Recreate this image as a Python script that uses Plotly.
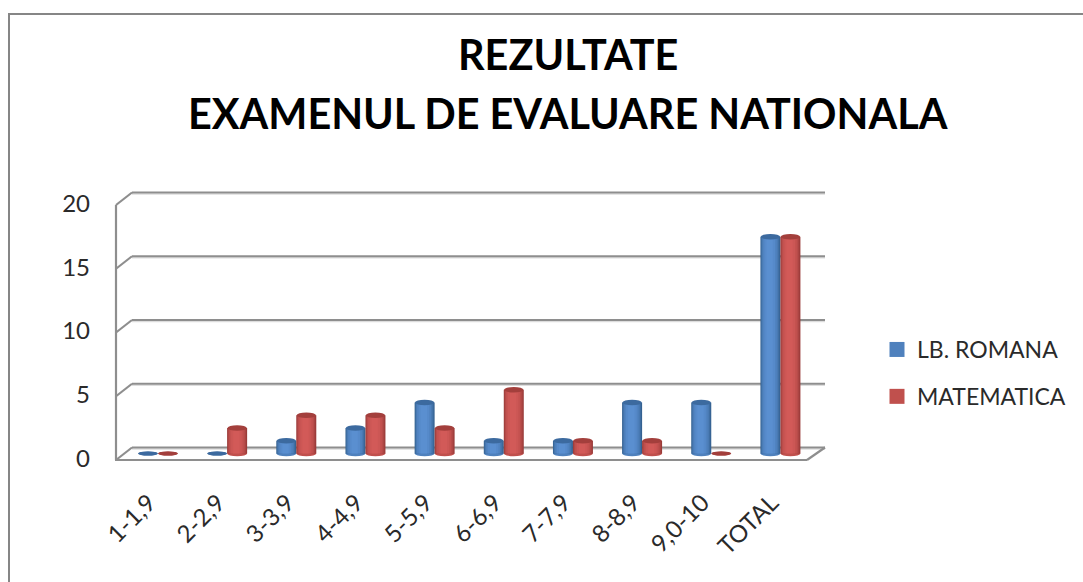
import plotly.graph_objects as go

categories = ["1-1,9", "2-2,9", "3-3,9", "4-4,9", "5-5,9", "6-6,9", "7-7,9", "8-8,9", "9,0-10", "TOTAL"]
lb_romana = [0, 0, 1, 2, 4, 1, 1, 4, 4, 17]
matematica = [0, 2, 3, 3, 2, 5, 1, 1, 0, 17]
y_ticks = [0, 5, 10, 15, 20]
title_lines = ["REZULTATE", "EXAMENUL DE EVALUARE NATIONALA"]

W, H = 1083, 582
FONT = "Lato"
GRID = "#8e8e8e"
TEXT = "#2a2a2a"

def hexmix(a, b, t):
    a = [int(a[i:i + 2], 16) for i in (1, 3, 5)]
    b = [int(b[i:i + 2], 16) for i in (1, 3, 5)]
    return "#" + "".join(f"{round(x + (y - x) * t):02x}" for x, y in zip(a, b))

def px(x): return x / W
def py(y): return 1 - y / H

# plot frame in pixels
PL, PR, PT, PB = 123.4, 815.0, 180.0, 470.0
UNIT = 12.75
ZERO_BAR = 453.5      # pixel of value 0 for the cylinders
ZERO_BACK = 447.5     # back wall
ZERO_FRONT = 460.0    # front edge
ZERO_LABEL = 458.5

def rng(zero):
    return [(zero - PB) / UNIT, (zero - PT) / UNIT]

def back(v): return ZERO_BACK - v * UNIT
def front(v): return ZERO_FRONT - v * UNIT

BAR_W = 0.289
# nested strips from the outer skin to the highlight: (inset left, inset right, lightness), as fractions of the bar width
LEVELS = [(0.00, 0.00, 0.00), (0.03, 0.05, 0.30), (0.07, 0.11, 0.55), (0.12, 0.18, 0.75), (0.20, 0.27, 0.90), (0.30, 0.38, 1.00)]

fig = go.Figure()
shapes = []

def line(x0, y0, x1, y1, color=GRID, width=2.2):
    shapes.append(dict(type="line", xref="paper", yref="paper", x0=px(x0), y0=py(y0), x1=px(x1), y1=py(y1),
                       line=dict(color=color, width=width), layer="below"))

# outer chart frame
line(9, 582, 9, 14, "#868686", 2)
line(8, 14, 1083, 14, "#868686", 2)

# walls and floor
for v in y_ticks:
    line(132, back(v) + 1.5, 825, back(v) + 1.5, "#dddddd", 1.5)
    line(132, back(v), 825, back(v))
    line(116, front(v), 132, back(v))
line(116, front(20), 116, front(0))
line(115, ZERO_FRONT, 807, ZERO_FRONT)
line(807, ZERO_FRONT, 825, ZERO_BACK)

def cylinder(values, start, name, edge, mid, light, top_color):
    xs = list(range(len(values)))
    for il, ir, t in LEVELS:
        fig.add_trace(go.Bar(x=xs, y=values, width=BAR_W * (1 - il - ir), offset=start + BAR_W * il,
                             marker=dict(color=hexmix(edge, light, t), line=dict(width=0)),
                             showlegend=False, name=name))
    for k, v in zip(xs, values):
        cap = 0.16 if v == 0 else 0.22
        # foot of the cylinder
        shapes.append(dict(type="circle", xref="x", yref="y", layer="below", x0=k + start, x1=k + start + BAR_W,
                           y0=-cap, y1=cap, fillcolor=top_color if v == 0 else mid, line=dict(width=0)))
        # top cap
        shapes.append(dict(type="circle", xref="x", yref="y", layer="above", x0=k + start + 0.005, x1=k + start + BAR_W - 0.005,
                           y0=v - cap, y1=v + cap, fillcolor=top_color, line=dict(width=0)))

cylinder(lb_romana, -BAR_W, "LB. ROMANA", "#34608f", "#4f81bd", "#5a8fd0", "#3c6a9f")
cylinder(matematica, 0, "MATEMATICA", "#983a38", "#c0504d", "#d25a58", "#a33f3c")

# legend entries and the y-label axis
for nm, col in (("LB. ROMANA", "#4f81bd"), ("MATEMATICA", "#c0504d")):
    fig.add_trace(go.Scatter(x=[None], y=[None], mode="markers", name=nm, legendgroup=nm, yaxis="y2",
                             marker=dict(symbol="square", size=15, color=col)))

annotations = [dict(text=t, xref="paper", yref="paper", x=px(568), y=py(yy), xanchor="center", yanchor="middle", showarrow=False,
                    font=dict(family=FONT, size=41.4, color="#000000", weight="bold"))
               for t, yy in zip(title_lines, (54, 113))]

fig.update_layout(
    width=W, height=H, autosize=False,
    paper_bgcolor="white", plot_bgcolor="rgba(0,0,0,0)",
    margin=dict(l=0, r=0, t=0, b=0, autoexpand=False),
    barmode="overlay", shapes=shapes, annotations=annotations,
    font=dict(family=FONT, color=TEXT),
    xaxis=dict(domain=[px(PL), px(PR)], range=[-0.5, 9.5], tickmode="array", tickvals=list(range(10)), ticktext=categories,
               tickangle=-45, showgrid=False, zeroline=False, showline=False, ticks="", anchor="y",
               ticklabelstandoff=13, ticklabelshift=-9,
               tickfont=dict(family=FONT, size=24, color=TEXT)),
    yaxis=dict(domain=[py(PB), py(PT)], range=rng(ZERO_BAR), visible=False),
    yaxis2=dict(domain=[py(PB), py(PT)], range=rng(ZERO_LABEL), overlaying="y", anchor="free", position=px(116), side="left",
                tickmode="array", tickvals=y_ticks, showgrid=False, zeroline=False, showline=False, ticks="",
                ticklabelstandoff=26, tickfont=dict(family=FONT, size=24, color=TEXT)),
    legend=dict(x=px(877), y=py(328), xanchor="left", yanchor="top", tracegroupgap=14, itemwidth=30,
                bgcolor="rgba(0,0,0,0)", font=dict(family=FONT, size=23, color=TEXT)),
)
fig.write_html("out.html", config={"displayModeBar": False},
               post_script="document.body.style.margin='0';document.documentElement.style.overflow='hidden';")
